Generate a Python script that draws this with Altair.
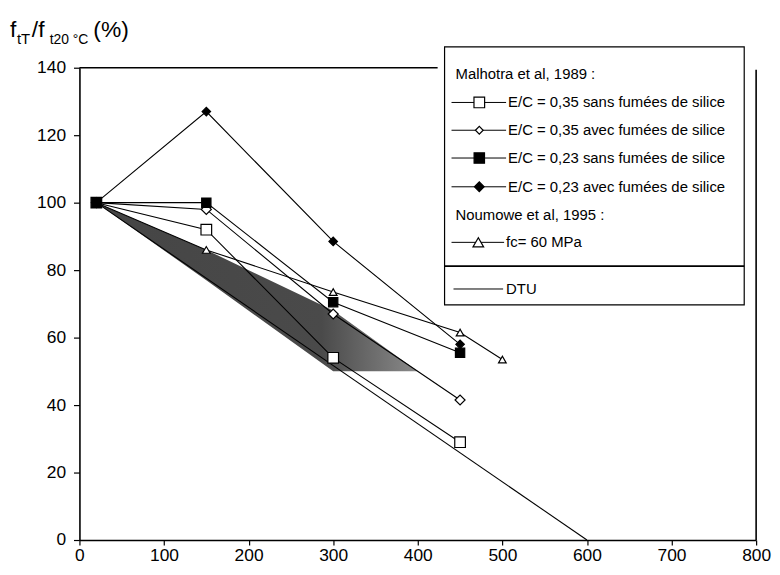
import altair as alt
import pandas as pd

FONT = "Liberation Sans"

# ---------------- data ----------------
malhotra_temps = [20, 150, 300, 450]
ec035_sans = [100, 92, 54, 29]
ec035_avec = [100, 98, 67, 41.5]
ec023_sans = [100, 100, 70.5, 55.5]
ec023_avec = [100, 127, 88.5, 58]
noumowe_temps = [20, 150, 300, 450, 500]
fc60 = [100, 86, 73.5, 61.5, 53.5]
dtu_temps = [20, 600]
dtu_values = [100, 0]
shade_temps = [20, 150, 300, 400]
shade_top = [100, 86, 68, 50]
shade_bottom = [100, 77, 50, 50]

series_names = [
    "E/C = 0,35 sans fumées de silice",
    "E/C = 0,35 avec fumées de silice",
    "E/C = 0,23 sans fumées de silice",
    "E/C = 0,23 avec fumées de silice",
    "fc= 60 MPa",
]
series_shapes = ["square", "diamond", "square", "diamond", "triangle-up"]
series_fills = ["white", "white", "black", "black", "white"]
series_sizes = [115, 60, 110, 95, 115]
heading_1 = "Malhotra et al, 1989 :"
heading_2 = "Noumowe et al, 1995 :"
dtu_label = "DTU"
x_ticks = list(range(0, 801, 100))
y_ticks = list(range(0, 141, 20))

# ---------------- tables ----------------
series_values = [ec035_sans, ec035_avec, ec023_sans, ec023_avec, fc60]
series_temps = [malhotra_temps] * 4 + [noumowe_temps]
draw_order = [4, 0, 1, 3, 2]
rows = []
for k, i in enumerate(draw_order):
    for t, v in zip(series_temps[i], series_values[i]):
        rows.append({"series": series_names[i], "temp": t, "value": v, "k": k})
df = pd.DataFrame(rows)
df_dtu = pd.DataFrame({"temp": dtu_temps, "value": dtu_values})
df_shade = pd.DataFrame({"temp": shade_temps, "top": shade_top, "bottom": shade_bottom})
one = pd.DataFrame({"k": [0]})

W, H = 682, 476
xscale = alt.Scale(domain=[0, 800], nice=False)
yscale = alt.Scale(domain=[0, 140], nice=False)
xaxis = alt.Axis(values=x_ticks, title=None, grid=False, tickSize=5, labelPadding=2,
                 labelFontSize=17.5, domainWidth=1.6, labelFlush=False, labelOverlap=False)
yaxis = alt.Axis(values=y_ticks, title=None, grid=False, tickSize=6, labelPadding=8,
                 labelFontSize=17.5, domainWidth=1.6, labelFlush=False, labelOverlap=False)
X = alt.X("temp:Q", scale=xscale, axis=xaxis)

shade = alt.Chart(df_shade).mark_area(
    color=alt.Gradient(
        gradient="linear",
        stops=[alt.GradientStop(color="#454545", offset=0),
               alt.GradientStop(color="#4a4a4a", offset=0.7),
               alt.GradientStop(color="#8a8a8a", offset=1)],
        x1=0, x2=1, y1=0, y2=0),
    interpolate="linear",
).encode(x=X, y=alt.Y("top:Q", scale=yscale, axis=yaxis), y2="bottom:Q")

dtu = alt.Chart(df_dtu).mark_line(color="black", strokeWidth=1.1).encode(
    x=X, y=alt.Y("value:Q", scale=yscale, axis=yaxis))

lines = alt.Chart(df).mark_line(color="black", strokeWidth=1.1).encode(
    x=X, y=alt.Y("value:Q", scale=yscale, axis=yaxis),
    detail="series:N", order="temp:Q")

points = alt.Chart(df).mark_point(filled=True, stroke="black", strokeWidth=1.2, opacity=1).encode(
    x=X, y=alt.Y("value:Q", scale=yscale, axis=yaxis),
    shape=alt.Shape("series:N", scale=alt.Scale(domain=series_names, range=series_shapes), legend=None),
    fill=alt.Fill("series:N", scale=alt.Scale(domain=series_names, range=series_fills), legend=None),
    size=alt.Size("series:N", scale=alt.Scale(domain=series_names, range=series_sizes), legend=None),
    order="k:Q",
)

# ---------------- frame pieces ----------------
def rule(x1, x2, y1, y2, w=1.2):
    return alt.Chart(one).mark_rule(color="black", strokeWidth=w).encode(
        x=alt.value(x1), x2=alt.value(x2), y=alt.value(y1), y2=alt.value(y2))

def txt(s, x, y, size=15, baseline="middle"):
    return alt.Chart(one).mark_text(text=s, align="left", baseline=baseline, fontSize=size,
                                    font=FONT, color="black").encode(x=alt.value(x), y=alt.value(y))

def sym(shape, fill, size, x, y):
    return alt.Chart(one).mark_point(shape=shape, filled=True, fill=fill, stroke="black",
                                     strokeWidth=1.2, size=size, opacity=1).encode(
        x=alt.value(x), y=alt.value(y))

frame = [rule(0, 361, 0, 0, 1.6), rule(W, W, 2, H, 1.6)]

# ---------------- legend ----------------
dx = 2
legend = [alt.Chart(one).mark_rect(fill="white", stroke="black", strokeWidth=1.2).encode(
    x=alt.value(366 + dx), x2=alt.value(668 + dx), y=alt.value(-21), y2=alt.value(239))]
legend.append(txt(heading_1, 377 + dx, 6))
row_y = [35, 63, 91, 120]
for i in range(4):
    legend.append(rule(373 + dx, 428 + dx, row_y[i], row_y[i], 1))
    legend.append(sym(series_shapes[i], series_fills[i], series_sizes[i], 401 + dx, row_y[i]))
    legend.append(txt(series_names[i], 430 + dx, row_y[i]))
legend.append(txt(heading_2, 377 + dx, 148))
legend.append(rule(373 + dx, 426 + dx, 176, 176, 1))
legend.append(sym(series_shapes[4], series_fills[4], series_sizes[4], 400 + dx, 176))
legend.append(txt(series_names[4], 428 + dx, 176))
legend.append(rule(366 + dx, 668 + dx, 200, 200, 1.6))
legend.append(rule(375 + dx, 425 + dx, 223, 223, 1))
legend.append(txt(dtu_label, 428 + dx, 223))

# ---------------- y title with subscripts ----------------
title = [
    txt("f", -70, -31, 23, "alphabetic"),
    txt("tT", -63, -24, 15, "alphabetic"),
    txt("/f", -48, -31, 23, "alphabetic"),
    txt("t20 °C", -30, -24, 14, "alphabetic"),
    txt("(%)", 14, -31, 23, "alphabetic"),
]

chart = alt.layer(shade, dtu, lines, points, *frame, *legend, *title).properties(
    width=W, height=H,
    padding={"left": 72, "top": 58, "right": 16, "bottom": 25},
    autosize=alt.AutoSizeParams(type="none"),
).configure_view(strokeWidth=0).configure_axis(
    labelFont=FONT, labelColor="black", tickColor="black", domainColor="black", tickWidth=1.2,
)

chart.save("out.html", embed_options={"renderer": "svg", "actions": False})
